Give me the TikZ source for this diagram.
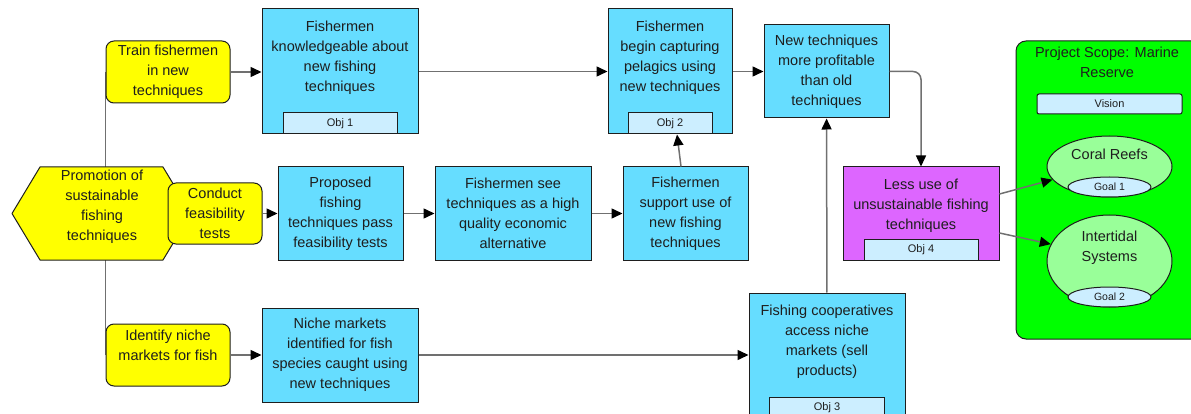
\documentclass[tikz,border=0pt]{standalone}
\usepackage{fontspec}
\setmainfont{Liberation Sans}
\usetikzlibrary{shapes.geometric,arrows.meta,backgrounds}
\definecolor{outcyan}{RGB}{102,221,255}
\definecolor{stratyellow}{RGB}{255,255,0}
\definecolor{objpink}{RGB}{221,102,255}
\definecolor{scopegreen}{RGB}{0,255,0}
\definecolor{goalgreen}{RGB}{153,255,153}
\definecolor{taglight}{RGB}{204,238,255}
\definecolor{linkgray}{RGB}{112,112,112}
\definecolor{inkdark}{RGB}{30,30,30}
\tikzset{
  outbox/.style={draw=inkdark, fill=outcyan, line width=1pt, align=center, inner sep=0pt},
  stratbox/.style={draw=inkdark, fill=stratyellow, rounded corners=8pt, line width=1pt, align=center, inner sep=0pt},
  tagbox/.style={draw=inkdark, fill=taglight, line width=1pt, inner sep=0pt, font=\fontsize{11}{13}\selectfont},
  goalell/.style={ellipse, draw=inkdark, fill=goalgreen, line width=1pt, inner sep=0pt},
  goaltag/.style={ellipse, draw=inkdark, fill=taglight, line width=1pt, inner sep=0pt, font=\fontsize{10.5}{12}\selectfont},
  txt/.style={align=center, inner sep=0pt},
  link/.style={draw=linkgray, line width=1.5pt, ->},
}
\begin{document}
\begin{tikzpicture}[x=1pt, y=-1pt, font=\fontsize{14.5}{20}\selectfont, text=inkdark,
    >={Triangle[length=11pt,width=10pt,color=black]}]
\useasboundingbox (0,0) rectangle (1191,414);
% focal factor
\path (12,213.5) coordinate (hexW) (40,167) coordinate (hexNW) (163,167) coordinate (hexNE)
  (191,213.5) coordinate (hexE) (163,260) coordinate (hexSE) (40,260) coordinate (hexSW)
  (105,167) coordinate (hexN) (105,260) coordinate (hexS);
\draw[draw=inkdark, fill=stratyellow, line width=1pt, line join=round]
  (hexW)--(hexNW)--(hexNE)--(hexE)--(hexSE)--(hexSW)--cycle;
\node[txt] (promo) at (102,207) {Promotion of\\sustainable\\fishing\\techniques};
% strategies
\node[stratbox, minimum width=124pt, minimum height=62pt] (train) at (168,72) {Train fishermen\\in new\\techniques};
\node[stratbox, minimum width=94pt, minimum height=61pt] (conduct) at (215,213.5) {Conduct\\feasibility\\tests};
\node[stratbox, minimum width=124pt, minimum height=62pt] (identify) at (168,355) {};
\node[txt] (identifytxt) at (168,345) {Identify niche\\markets for fish};
% top chain
\node[outbox, minimum width=156pt, minimum height=125pt] (know) at (340,71.5) {};
\node[txt] (knowtxt) at (340,58) {Fishermen\\knowledgeable about\\new fishing\\techniques};
\node[tagbox, minimum width=114pt, minimum height=21pt, anchor=south] (obj1) at (know.south) {Obj 1};
\node[outbox, minimum width=124pt, minimum height=125pt] (pelag) at (670,71.5) {};
\node[txt] (pelagtxt) at (670,58) {Fishermen\\begin capturing\\pelagics using\\new techniques};
\node[tagbox, minimum width=84pt, minimum height=21pt, anchor=south] (obj2) at (pelag.south) {Obj 2};
\node[outbox, minimum width=125pt, minimum height=93pt] (newtech) at (826.5,71.5) {New techniques\\more profitable\\than old\\techniques};
\node[outbox, fill=objpink, minimum width=156pt, minimum height=93pt] (lessuse) at (921,213.5) {};
\node[txt] (lessusetxt) at (921,206) {Less use of\\unsustainable fishing\\techniques};
\node[tagbox, minimum width=114pt, minimum height=21pt, anchor=south] (obj4) at (lessuse.south) {Obj 4};
% middle chain
\node[outbox, minimum width=125pt, minimum height=93pt] (proposed) at (340.5,213.5) {Proposed\\fishing\\techniques pass\\feasibility tests};
\node[outbox, minimum width=156pt, minimum height=93pt] (see) at (513,213.5) {Fishermen see\\techniques as a high\\quality economic\\alternative};
\node[outbox, minimum width=125pt, minimum height=93pt] (support) at (685.5,213.5) {Fishermen\\support use of\\new fishing\\techniques};
% bottom chain
\node[outbox, minimum width=156pt, minimum height=94pt] (niche) at (340,355) {Niche markets\\identified for fish\\species caught using\\new techniques};
\node[outbox, minimum width=156pt, minimum height=125pt] (coop) at (827,355.5) {};
\node[txt] (cooptxt) at (827,342) {Fishing cooperatives\\access niche\\markets (sell\\products)};
\node[tagbox, minimum width=115pt, minimum height=21pt, anchor=south] (obj3) at (coop.south) {Obj 3};
% project scope
\node[draw=inkdark, fill=scopegreen, line width=1pt, rounded corners=10pt, minimum width=190pt, minimum height=298pt] (scope) at (1111,190) {};
\node[txt] (scopetxt) at (1107,62) {Project Scope: Marine\\Reserve};
\node[tagbox, rounded corners=2pt, minimum width=145pt, minimum height=20pt] (vision) at (1109.5,104) {Vision};
\node[goalell, minimum width=125pt, minimum height=61pt] (coral) at (1109.5,166.5) {};
\node[txt] (coraltxt) at (1109.5,154) {Coral Reefs};
\node[goaltag, minimum width=83pt, minimum height=20pt] (goal1) at (1109.5,187) {Goal 1};
\node[goalell, minimum width=125pt, minimum height=92pt] (inter) at (1109.5,261) {};
\node[txt] (intertxt) at (1109.5,248) {Intertidal\\Systems};
\node[goaltag, minimum width=83pt, minimum height=20pt] (goal2) at (1109.5,297) {Goal 2};
% links
\draw[link] (train.east) -- (train.east -| know.west);
\draw[link] (conduct.east) -- (proposed.west);
\draw[link] (identify.east) -- (niche.west);
\draw[link] (know.east) -- (pelag.west);
\draw[link] (pelag.east) -- (pelag.east -| newtech.west);
\draw[link] (proposed.east) -- (see.west);
\draw[link] (see.east) -- (support.west);
\draw[link] ([xshift=-4.5pt]support.north) -- ([xshift=7pt]obj2.south);
\draw[link] (niche.east) -- (niche.east -| coop.west);
\draw[link] (coop) -- (newtech);
\draw[link, rounded corners=8pt] (newtech.east) -| (lessuse.north);
\draw[link] ([yshift=19.5pt]lessuse.east) -- (coral.193);
\draw[link] ([yshift=-19.5pt]lessuse.east) -- (inter.164);
\begin{scope}[on background layer]
\draw[link, -] (train.west) -- (train.west |- hexN);
\draw[link, -] (identify.west) -- (identify.west |- hexS);
\end{scope}
\end{tikzpicture}
\end{document}
